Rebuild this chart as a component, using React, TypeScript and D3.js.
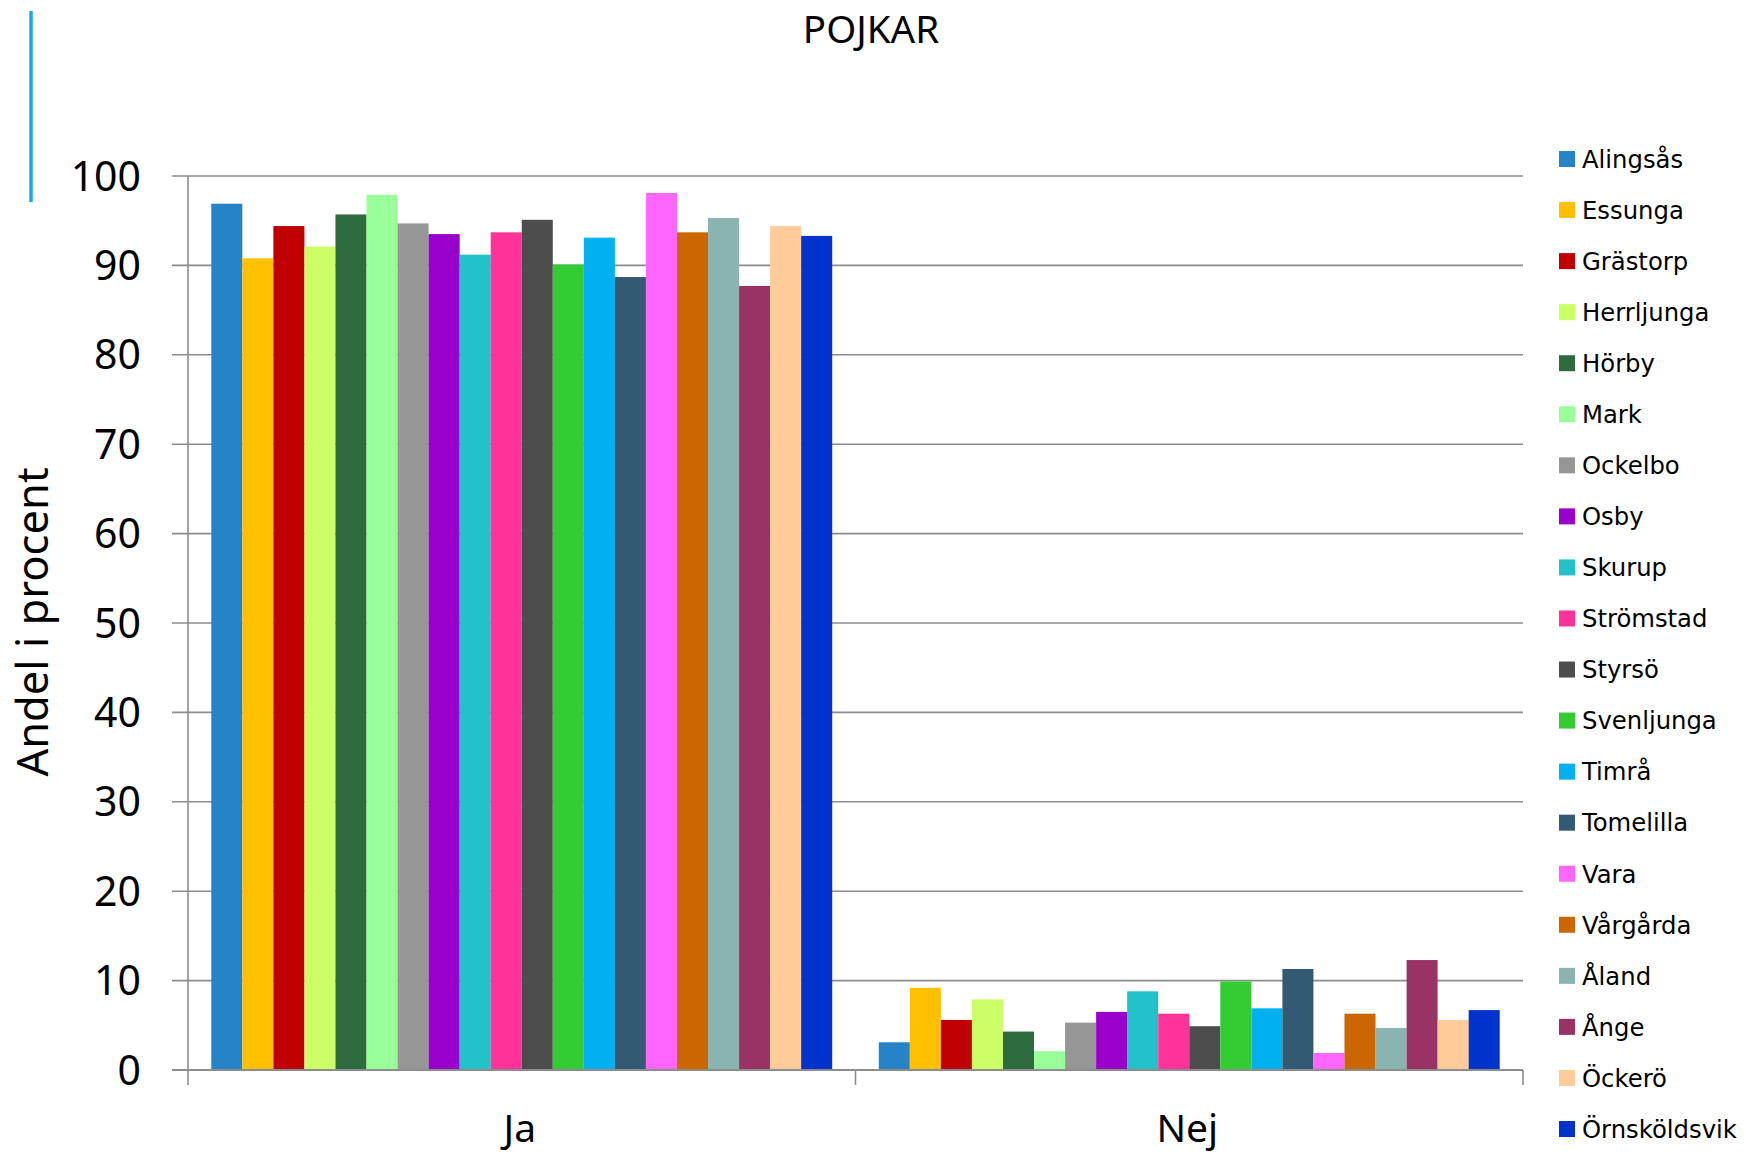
import React from "react";
import * as d3 from "d3";

const categories = ["Ja", "Nej"];
const municipalities = [
  "Alingsås", "Essunga", "Grästorp", "Herrljunga", "Hörby", "Mark", "Ockelbo", "Osby",
  "Skurup", "Strömstad", "Styrsö", "Svenljunga", "Timrå", "Tomelilla", "Vara", "Vårgårda",
  "Åland", "Ånge", "Öckerö", "Örnsköldsvik",
];
const colors = [
  "#2783C8", "#FFC000", "#C00000", "#CCFF66", "#2E6B3F", "#99FF99", "#969696", "#9900CC",
  "#23C1C9", "#FF3399", "#4D4D4D", "#33CC33", "#00B0F0", "#335A73", "#FF66FF", "#CC6600",
  "#89B4B0", "#993366", "#FFCC99", "#0033CC",
];
const jaValues = [
  96.9, 90.8, 94.4, 92.1, 95.7, 97.9, 94.7, 93.5, 91.2, 93.7,
  95.1, 90.1, 93.1, 88.7, 98.1, 93.7, 95.3, 87.7, 94.4, 93.3,
];
const nejValues = [
  3.1, 9.2, 5.6, 7.9, 4.3, 2.1, 5.3, 6.5, 8.8, 6.3,
  4.9, 9.9, 6.9, 11.3, 1.9, 6.3, 4.7, 12.3, 5.6, 6.7,
];
const yTicks = [0, 10, 20, 30, 40, 50, 60, 70, 80, 90, 100];
const title = "POJKAR";
const yTitle = "Andel i procent";

const W = 1746;
const H = 1154;
const GRID = "#8C8C8C";
const AXIS_FONT = "'Noto Sans', sans-serif";
const LEGEND_FONT = "'DejaVu Sans', sans-serif";

export default function App() {
  const plotLeft = 188;
  const plotRight = 1523;
  const plotTop = 176;
  const plotBottom = 1070;

  const x0 = d3.scaleBand<string>().domain(categories).range([plotLeft, plotRight]).paddingInner(0).paddingOuter(0);
  const x1 = d3
    .scaleBand<string>()
    .domain(municipalities)
    .range([0, x0.bandwidth()])
    .paddingInner(0)
    .paddingOuter(0.75);
  const y = d3.scaleLinear().domain([0, 100]).range([plotBottom, plotTop]);

  const seriesByCat: Record<string, number[]> = { Ja: jaValues, Nej: nejValues };

  const legendY = d3.scalePoint<string>().domain(municipalities).range([159, 1129]);

  const xTickPositions = [plotLeft, ...categories.map((c) => (x0(c) as number) + x0.bandwidth())];

  return (
    <svg
      width={W}
      height={H}
      style={{ position: "absolute", left: 0, top: 0, background: "#fff" }}
      xmlns="http://www.w3.org/2000/svg"
    >
      <rect x={0} y={0} width={W} height={H} fill="#fff" />
      {/* decorative blue line */}
      <line x1={31} x2={31} y1={11} y2={202} stroke="#1BA9E1" strokeWidth={3.5} />

      {/* title */}
      <text x={871} y={43} textAnchor="middle" fontFamily={AXIS_FONT} fontSize={38.5} fill="#000">
        {title}
      </text>

      {/* gridlines + y ticks */}
      {yTicks.map((t) => (
        <g key={t}>
          <line x1={plotLeft - 16} x2={plotRight} y1={y(t)} y2={y(t)} stroke={GRID} strokeWidth={1.6} />
          <text
            x={141}
            y={y(t)}
            dy="0.357em"
            textAnchor="end"
            fontFamily={AXIS_FONT}
            fontSize={41}
            fill="#000"
          >
            {t}
          </text>
        </g>
      ))}

      {/* bars */}
      {categories.map((c) => (
        <g key={c} transform={`translate(${x0(c)},0)`}>
          {municipalities.map((m, i) => {
            const v = seriesByCat[c][i];
            return (
              <rect
                key={m}
                x={x1(m)}
                y={y(v)}
                width={x1.bandwidth()}
                height={y(0) - y(v)}
                fill={colors[i]}
              />
            );
          })}
        </g>
      ))}

      {/* axes */}
      <line x1={plotLeft} x2={plotLeft} y1={plotTop} y2={plotBottom} stroke={GRID} strokeWidth={1.6} />
      <line x1={plotLeft - 16} x2={plotRight} y1={plotBottom} y2={plotBottom} stroke={GRID} strokeWidth={1.8} />
      {xTickPositions.map((px, i) => (
        <line key={i} x1={px} x2={px} y1={plotBottom} y2={plotBottom + 15} stroke={GRID} strokeWidth={1.6} />
      ))}

      {/* category labels */}
      {categories.map((c) => (
        <text
          key={c}
          x={(x0(c) as number) + x0.bandwidth() / 2 - 2}
          y={1142}
          textAnchor="middle"
          fontFamily={AXIS_FONT}
          fontSize={39}
          fill="#000"
        >
          {c}
        </text>
      ))}

      {/* y title */}
      <text
        transform={`translate(48,622) rotate(-90)`}
        textAnchor="middle"
        fontFamily={AXIS_FONT}
        fontSize={43.5}
        fill="#000"
      >
        {yTitle}
      </text>

      {/* legend */}
      {municipalities.map((m, i) => {
        const cy = legendY(m) as number;
        return (
          <g key={m}>
            <rect x={1559} y={cy - 8} width={16} height={16} fill={colors[i]} />
            <text x={1582} y={cy + 8.8} fontFamily={LEGEND_FONT} fontSize={24.3} fill="#000">
              {m}
            </text>
          </g>
        );
      })}
    </svg>
  );
}
